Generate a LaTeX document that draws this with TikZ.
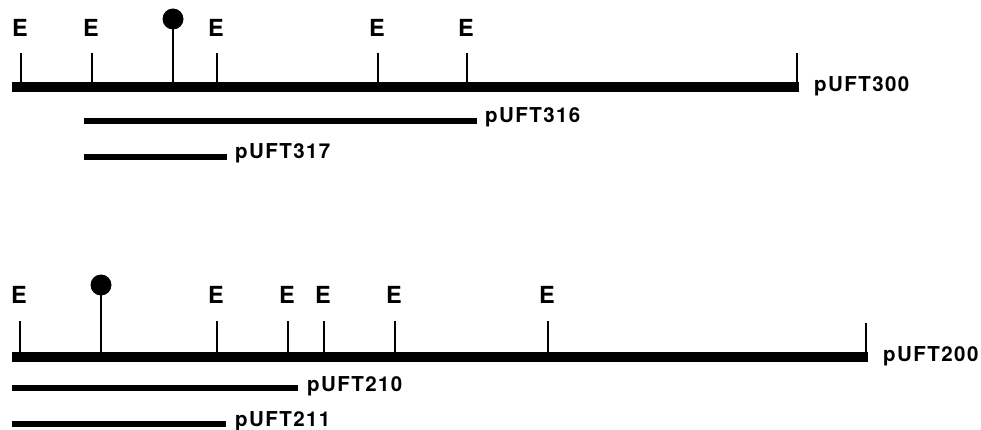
\documentclass[tikz,border=0pt]{standalone}
\usepackage{fontspec}
\setmainfont{TeX Gyre Heros}
\begin{document}
\begin{tikzpicture}[x=1pt,y=-1pt,
  mapbar/.style={line width=10pt},
  clonebar/.style={line width=5.5pt},
  site/.style={line width=2.6pt},
  marker/.style={circle,fill=black,inner sep=0pt,minimum size=21pt},
  sitelabel/.style={font=\fontsize{23.5}{23.5}\selectfont\bfseries,inner sep=0pt,anchor=base},
  clonelabel/.style={font=\fontsize{20.5}{20.5}\selectfont\bfseries\addfontfeatures{LetterSpace=7},inner sep=0pt,anchor=base west},
]
\useasboundingbox (0,0) rectangle (981,430);

% ---- pUFT300 map ----
\coordinate (L0) at (12,87);
\coordinate (R0) at (799,87);
\draw[mapbar] (L0) -- (R0);
\coordinate (endT0) at (797,53);
\coordinate (endB0) at (797,92);
\draw[site] (endT0) -- (endB0);
\node[clonelabel] (p300) at (814,92) {pUFT300};
\foreach \x/\n in {21/a,92/b,217/c,378/d,467/e}{
  \coordinate (ut\n) at (\x,53);
  \coordinate (ub\n) at (\x,87);
  \draw[site] (ut\n) -- (ub\n);
  \node[sitelabel] (ue\n) at (\x-1,37) {E};
}
\node[marker] (um) at (173,19) {};
\coordinate (umb) at (173,87);
\draw[site] (um.center) -- (umb);

% subclones
\coordinate (s316a) at (84,121);
\coordinate (s316b) at (477,121);
\draw[clonebar] (s316a) -- (s316b);
\node[clonelabel] (p316) at (485,123) {pUFT316};
\coordinate (s317a) at (84,157);
\coordinate (s317b) at (227,157);
\draw[clonebar] (s317a) -- (s317b);
\node[clonelabel] (p317) at (235,159) {pUFT317};

% ---- pUFT200 map ----
\coordinate (L1) at (12,357);
\coordinate (R1) at (868,357);
\draw[mapbar] (L1) -- (R1);
\coordinate (endT1) at (866,323);
\coordinate (endB1) at (866,362);
\draw[site] (endT1) -- (endB1);
\node[clonelabel] (p200) at (883,361) {pUFT200};
\foreach \x/\n in {20/a,217/b,288/c,324/d,395/e,548/f}{
  \coordinate (lt\n) at (\x,321);
  \coordinate (lb\n) at (\x,357);
  \draw[site] (lt\n) -- (lb\n);
  \node[sitelabel] (le\n) at (\x-1,303) {E};
}
\node[marker] (lm) at (101,285) {};
\coordinate (lmb) at (101,357);
\draw[site] (lm.center) -- (lmb);

% subclones
\coordinate (s210a) at (12,388);
\coordinate (s210b) at (298,388);
\draw[clonebar] (s210a) -- (s210b);
\node[clonelabel] (p210) at (307,391) {pUFT210};
\coordinate (s211a) at (12,424);
\coordinate (s211b) at (226,424);
\draw[clonebar] (s211a) -- (s211b);
\node[clonelabel] (p211) at (235,426) {pUFT211};
\end{tikzpicture}
\end{document}
